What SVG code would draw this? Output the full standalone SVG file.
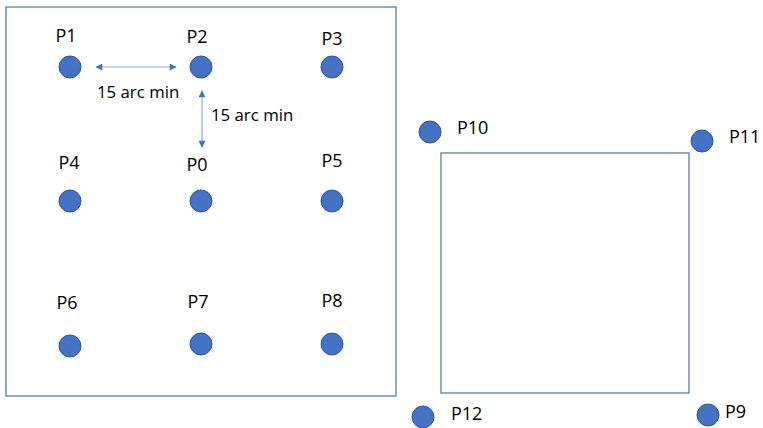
<svg xmlns="http://www.w3.org/2000/svg" width="763" height="428" viewBox="0 0 763 428">
<style>
.frame{fill:none;stroke:#6F8CBE;stroke-width:1.5}
.sq{fill:none;stroke:#5470A6;stroke-width:1.2}
.pt{fill:#4472C4;stroke:#2F5597;stroke-width:1}
.lbl{font-family:"Open Sans","Liberation Sans",sans-serif;font-size:18px;fill:#000}
.dim{font-family:"Open Sans","Liberation Sans",sans-serif;font-size:16.8px;fill:#000}
.arr{stroke:#8FAADC;stroke-width:1.2;fill:none;marker-start:url(#ah);marker-end:url(#ah)}
</style>
<defs>
<marker id="ah" viewBox="0 0 10 10" refX="9" refY="5" markerWidth="9" markerHeight="7" markerUnits="userSpaceOnUse" orient="auto-start-reverse">
<path d="M0,0 L10,5 L0,10 z" fill="#4472C4"/>
</marker>
</defs>
<rect width="763" height="428" fill="#fff"/>
<rect class="frame" x="6" y="7" width="390" height="389"/>
<rect class="sq" x="441" y="153" width="248" height="240"/>
<g id="P1"><circle class="pt" cx="70" cy="67" r="11"/><text class="lbl" x="66" y="42" text-anchor="middle">P1</text></g>
<g id="P2"><circle class="pt" cx="201" cy="67" r="11"/><text class="lbl" x="197" y="43" text-anchor="middle">P2</text></g>
<g id="P3"><circle class="pt" cx="332" cy="67" r="11"/><text class="lbl" x="332" y="45" text-anchor="middle">P3</text></g>
<g id="P4"><circle class="pt" cx="70" cy="201" r="11"/><text class="lbl" x="69" y="169" text-anchor="middle">P4</text></g>
<g id="P0"><circle class="pt" cx="201" cy="201" r="11"/><text class="lbl" x="197" y="171" text-anchor="middle">P0</text></g>
<g id="P5"><circle class="pt" cx="332" cy="201" r="11"/><text class="lbl" x="332" y="167" text-anchor="middle">P5</text></g>
<g id="P6"><circle class="pt" cx="70" cy="346" r="11"/><text class="lbl" x="67" y="309" text-anchor="middle">P6</text></g>
<g id="P7"><circle class="pt" cx="201" cy="344" r="11"/><text class="lbl" x="198" y="308" text-anchor="middle">P7</text></g>
<g id="P8"><circle class="pt" cx="332" cy="344" r="11"/><text class="lbl" x="332" y="307" text-anchor="middle">P8</text></g>
<g id="P10"><circle class="pt" cx="430" cy="132" r="11"/><text class="lbl" x="457" y="134">P10</text></g>
<g id="P11"><circle class="pt" cx="702" cy="141" r="11"/><text class="lbl" x="729" y="143">P11</text></g>
<g id="P12"><circle class="pt" cx="423" cy="417" r="11"/><text class="lbl" x="451" y="420">P12</text></g>
<g id="P9"><circle class="pt" cx="708" cy="415" r="11"/><text class="lbl" x="725" y="418">P9</text></g>
<g id="connectors">
<line class="arr" x1="96" y1="67" x2="176" y2="67"/>
<line class="arr" x1="202" y1="91" x2="202" y2="147"/>
</g>
<text class="dim" x="97" y="98">15 arc min</text>
<text class="dim" x="211" y="121">15 arc min</text>
</svg>
